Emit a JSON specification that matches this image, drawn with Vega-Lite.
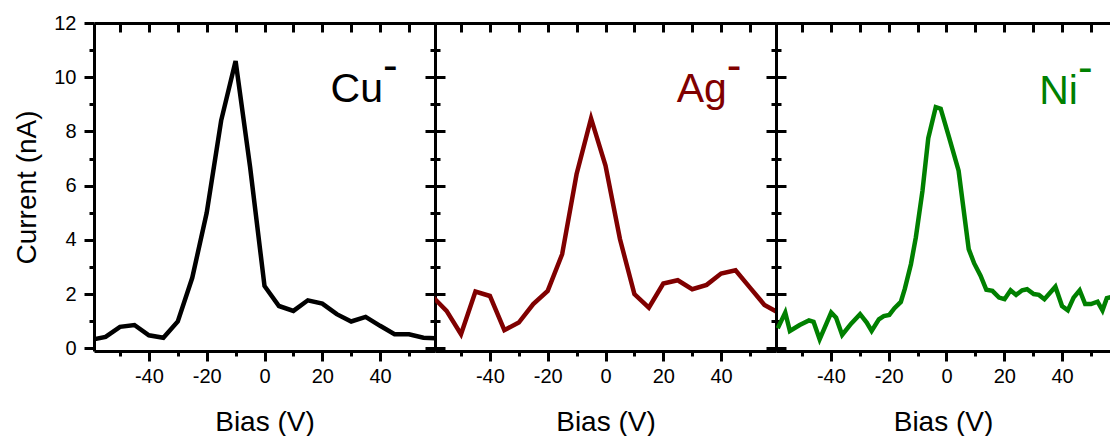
{
  "$schema": "https://vega.github.io/schema/vega-lite/v6.json",
  "background": "white",
  "padding": {"left": 13, "top": 13, "right": 0, "bottom": 0},
  "bounds": "flush",
  "spacing": 0,
  "config": {
    "view": {"stroke": null},
    "font": "Liberation Sans",
    "axis": {
      "domainColor": "black", "domainWidth": 3, "tickColor": "black", "tickWidth": 3,
      "labelColor": "black", "labelFontSize": 20, "labelFont": "Liberation Sans",
      "titleFont": "Liberation Sans", "titleFontSize": 28, "titleFontWeight": "normal", "titleColor": "black",
      "grid": false, "labelFlush": false, "labelOverlap": false
    }
  },
  "datasets": {
    "curves": [
      {"ion": "Cu", "bias": -60, "current": 0.31}, {"ion": "Cu", "bias": -55, "current": 0.42}, {"ion": "Cu", "bias": -50, "current": 0.79},
      {"ion": "Cu", "bias": -45, "current": 0.86}, {"ion": "Cu", "bias": -40, "current": 0.48}, {"ion": "Cu", "bias": -35, "current": 0.39},
      {"ion": "Cu", "bias": -30, "current": 0.99}, {"ion": "Cu", "bias": -25, "current": 2.6}, {"ion": "Cu", "bias": -20, "current": 5.0},
      {"ion": "Cu", "bias": -15, "current": 8.4}, {"ion": "Cu", "bias": -10, "current": 10.6}, {"ion": "Cu", "bias": -5, "current": 6.7},
      {"ion": "Cu", "bias": 0, "current": 2.3}, {"ion": "Cu", "bias": 5, "current": 1.56}, {"ion": "Cu", "bias": 10, "current": 1.38},
      {"ion": "Cu", "bias": 15, "current": 1.77}, {"ion": "Cu", "bias": 20, "current": 1.65}, {"ion": "Cu", "bias": 25, "current": 1.26},
      {"ion": "Cu", "bias": 30, "current": 0.99}, {"ion": "Cu", "bias": 35, "current": 1.16}, {"ion": "Cu", "bias": 40, "current": 0.83},
      {"ion": "Cu", "bias": 45, "current": 0.52}, {"ion": "Cu", "bias": 50, "current": 0.52}, {"ion": "Cu", "bias": 55, "current": 0.39},
      {"ion": "Cu", "bias": 60, "current": 0.36},
      {"ion": "Ag", "bias": -60, "current": 1.92}, {"ion": "Ag", "bias": -55, "current": 1.38}, {"ion": "Ag", "bias": -50, "current": 0.52},
      {"ion": "Ag", "bias": -45, "current": 2.09}, {"ion": "Ag", "bias": -40, "current": 1.93}, {"ion": "Ag", "bias": -35, "current": 0.67},
      {"ion": "Ag", "bias": -30, "current": 0.95}, {"ion": "Ag", "bias": -25, "current": 1.63}, {"ion": "Ag", "bias": -20, "current": 2.12},
      {"ion": "Ag", "bias": -15, "current": 3.47}, {"ion": "Ag", "bias": -10, "current": 6.43}, {"ion": "Ag", "bias": -5, "current": 8.48},
      {"ion": "Ag", "bias": 0, "current": 6.74}, {"ion": "Ag", "bias": 5, "current": 4.03}, {"ion": "Ag", "bias": 10, "current": 2.0},
      {"ion": "Ag", "bias": 15, "current": 1.5}, {"ion": "Ag", "bias": 20, "current": 2.39}, {"ion": "Ag", "bias": 25, "current": 2.51},
      {"ion": "Ag", "bias": 30, "current": 2.18}, {"ion": "Ag", "bias": 35, "current": 2.34}, {"ion": "Ag", "bias": 40, "current": 2.76},
      {"ion": "Ag", "bias": 45, "current": 2.88}, {"ion": "Ag", "bias": 50, "current": 2.24}, {"ion": "Ag", "bias": 55, "current": 1.6},
      {"ion": "Ag", "bias": 60, "current": 1.3},
      {"ion": "Ni", "bias": -58.4, "current": 0.74}, {"ion": "Ni", "bias": -55.8, "current": 1.32}, {"ion": "Ni", "bias": -54.2, "current": 0.64},
      {"ion": "Ni", "bias": -50.8, "current": 0.86}, {"ion": "Ni", "bias": -47.6, "current": 1.03}, {"ion": "Ni", "bias": -46, "current": 0.98},
      {"ion": "Ni", "bias": -43.9, "current": 0.33}, {"ion": "Ni", "bias": -39.9, "current": 1.32}, {"ion": "Ni", "bias": -38.2, "current": 1.13},
      {"ion": "Ni", "bias": -36.1, "current": 0.49}, {"ion": "Ni", "bias": -33, "current": 0.91}, {"ion": "Ni", "bias": -29.9, "current": 1.26},
      {"ion": "Ni", "bias": -27.6, "current": 0.95}, {"ion": "Ni", "bias": -25.9, "current": 0.64}, {"ion": "Ni", "bias": -23.4, "current": 1.07},
      {"ion": "Ni", "bias": -21.7, "current": 1.19}, {"ion": "Ni", "bias": -19.8, "current": 1.23}, {"ion": "Ni", "bias": -18, "current": 1.48},
      {"ion": "Ni", "bias": -15.8, "current": 1.71}, {"ion": "Ni", "bias": -14.4, "current": 2.2}, {"ion": "Ni", "bias": -12.3, "current": 3.1},
      {"ion": "Ni", "bias": -10.6, "current": 4.09}, {"ion": "Ni", "bias": -8.3, "current": 5.81}, {"ion": "Ni", "bias": -6.3, "current": 7.75},
      {"ion": "Ni", "bias": -3.7, "current": 8.9}, {"ion": "Ni", "bias": -2, "current": 8.84}, {"ion": "Ni", "bias": 0.9, "current": 7.78},
      {"ion": "Ni", "bias": 4.2, "current": 6.55}, {"ion": "Ni", "bias": 7.7, "current": 3.66}, {"ion": "Ni", "bias": 9.6, "current": 3.13},
      {"ion": "Ni", "bias": 11.8, "current": 2.68}, {"ion": "Ni", "bias": 13.8, "current": 2.16}, {"ion": "Ni", "bias": 15.9, "current": 2.12},
      {"ion": "Ni", "bias": 18.2, "current": 1.87}, {"ion": "Ni", "bias": 20.1, "current": 1.81}, {"ion": "Ni", "bias": 22.2, "current": 2.14},
      {"ion": "Ni", "bias": 24.1, "current": 1.97}, {"ion": "Ni", "bias": 26.2, "current": 2.14}, {"ion": "Ni", "bias": 27.9, "current": 2.18},
      {"ion": "Ni", "bias": 30.2, "current": 2.0}, {"ion": "Ni", "bias": 32, "current": 1.97}, {"ion": "Ni", "bias": 33.9, "current": 1.81},
      {"ion": "Ni", "bias": 37.7, "current": 2.27}, {"ion": "Ni", "bias": 40, "current": 1.56}, {"ion": "Ni", "bias": 42, "current": 1.4},
      {"ion": "Ni", "bias": 44, "current": 1.87}, {"ion": "Ni", "bias": 46.1, "current": 2.14}, {"ion": "Ni", "bias": 48, "current": 1.63},
      {"ion": "Ni", "bias": 50, "current": 1.63}, {"ion": "Ni", "bias": 52.3, "current": 1.72}, {"ion": "Ni", "bias": 54, "current": 1.4},
      {"ion": "Ni", "bias": 55.5, "current": 1.85}, {"ion": "Ni", "bias": 57.5, "current": 1.9}
    ],
    "labels": [
      {"ion": "Cu", "bias": 41, "current": 9.08, "label": "Cu"},
      {"ion": "Ag", "bias": 42, "current": 9.08, "label": "Ag"},
      {"ion": "Ni", "bias": 45.5, "current": 9.02, "label": "Ni"}
    ]
  },
  "hconcat": [
    {
      "width": 341, "height": 328,
      "resolve": {"axis": {"x": "independent", "y": "independent"}},
      "layer": [
        {
          "data": {"name": "curves"},
          "transform": [{"filter": "datum.ion === 'Cu'"}],
          "mark": {"type": "line", "color": "black", "strokeWidth": 4.5, "clip": true},
          "encoding": {
            "x": {"field": "bias", "type": "quantitative", "scale": {"domain": [-59, 59], "nice": false, "zero": false},
              "axis": {"orient": "bottom", "values": [-50, -40, -30, -20, -10, 0, 10, 20, 30, 40, 50],
                "labelExpr": "datum.value % 20 === 0 ? '' + datum.value : ''",
                "tickSize": {"condition": {"test": "datum.value % 20 === 0", "value": 10}, "value": 5},
                "labelPadding": 5, "title": "Bias (V)", "titlePadding": 22}},
            "y": {"field": "current", "type": "quantitative", "scale": {"domain": [-0.1, 12], "nice": false},
              "axis": {"orient": "left", "values": [0, 1, 2, 3, 4, 5, 6, 7, 8, 9, 10, 11, 12],
                "labelExpr": "datum.value % 2 === 0 ? '' + datum.value : ''",
                "tickSize": {"condition": {"test": "datum.value % 2 === 0", "value": 10}, "value": 5},
                "labelPadding": 8, "title": "Current (nA)", "titlePadding": 12}}
          }
        },
        {
          "data": {"name": "labels"},
          "transform": [{"filter": "datum.ion === 'Cu'"}],
          "mark": {"type": "text", "align": "right", "baseline": "alphabetic", "fontSize": 41, "color": "black"},
          "encoding": {
            "x": {"field": "bias", "type": "quantitative",
              "axis": {"orient": "top", "values": [-50, -40, -30, -20, -10, 0, 10, 20, 30, 40, 50], "labels": false, "tickSize": -9, "title": null}},
            "y": {"field": "current", "type": "quantitative",
              "axis": {"orient": "right", "values": [0, 1, 2, 3, 4, 5, 6, 7, 8, 9, 10, 11, 12], "labels": false,
                "tickSize": {"condition": {"test": "datum.value % 2 === 0", "value": 10}, "value": 5}, "title": null}},
            "text": {"field": "label"}
          }
        },
        {
          "data": {"name": "labels"},
          "transform": [{"filter": "datum.ion === 'Cu'"}],
          "mark": {"type": "text", "align": "left", "baseline": "alphabetic", "fontSize": 44, "dy": -22, "color": "black", "text": "-"},
          "encoding": {
            "x": {"field": "bias", "type": "quantitative", "axis": null},
            "y": {"field": "current", "type": "quantitative", "axis": null}
          }
        }
      ]
    },
    {
      "width": 341, "height": 328,
      "resolve": {"axis": {"x": "independent", "y": "independent"}},
      "layer": [
        {
          "data": {"name": "curves"},
          "transform": [{"filter": "datum.ion === 'Ag'"}],
          "mark": {"type": "line", "color": "#800000", "strokeWidth": 4.5, "clip": true},
          "encoding": {
            "x": {"field": "bias", "type": "quantitative", "scale": {"domain": [-59, 59], "nice": false, "zero": false},
              "axis": {"orient": "bottom", "values": [-50, -40, -30, -20, -10, 0, 10, 20, 30, 40, 50],
                "labelExpr": "datum.value % 20 === 0 ? '' + datum.value : ''",
                "tickSize": {"condition": {"test": "datum.value % 20 === 0", "value": 10}, "value": 5},
                "labelPadding": 5, "title": "Bias (V)", "titlePadding": 22}},
            "y": {"field": "current", "type": "quantitative", "scale": {"domain": [-0.1, 12], "nice": false},
              "axis": {"orient": "left", "values": [0, 1, 2, 3, 4, 5, 6, 7, 8, 9, 10, 11, 12], "labels": false,
                "tickSize": {"condition": {"test": "datum.value % 2 === 0", "value": 10}, "value": 5}, "title": null}}
          }
        },
        {
          "data": {"name": "labels"},
          "transform": [{"filter": "datum.ion === 'Ag'"}],
          "mark": {"type": "text", "align": "right", "baseline": "alphabetic", "fontSize": 41, "color": "#800000"},
          "encoding": {
            "x": {"field": "bias", "type": "quantitative",
              "axis": {"orient": "top", "values": [-50, -40, -30, -20, -10, 0, 10, 20, 30, 40, 50], "labels": false, "tickSize": -9, "title": null}},
            "y": {"field": "current", "type": "quantitative",
              "axis": {"orient": "right", "values": [0, 1, 2, 3, 4, 5, 6, 7, 8, 9, 10, 11, 12], "labels": false,
                "tickSize": {"condition": {"test": "datum.value % 2 === 0", "value": 10}, "value": 5}, "title": null}},
            "text": {"field": "label"}
          }
        },
        {
          "data": {"name": "labels"},
          "transform": [{"filter": "datum.ion === 'Ag'"}],
          "mark": {"type": "text", "align": "left", "baseline": "alphabetic", "fontSize": 44, "dy": -22, "color": "#800000", "text": "-"},
          "encoding": {
            "x": {"field": "bias", "type": "quantitative", "axis": null},
            "y": {"field": "current", "type": "quantitative", "axis": null}
          }
        }
      ]
    },
    {
      "width": 334, "height": 328,
      "resolve": {"axis": {"x": "independent", "y": "independent"}},
      "layer": [
        {
          "data": {"name": "curves"},
          "transform": [{"filter": "datum.ion === 'Ni'"}],
          "mark": {"type": "line", "color": "#008000", "strokeWidth": 4.5, "clip": true},
          "encoding": {
            "x": {"field": "bias", "type": "quantitative", "scale": {"domain": [-59, 56.6], "nice": false, "zero": false},
              "axis": {"orient": "bottom", "values": [-50, -40, -30, -20, -10, 0, 10, 20, 30, 40, 50],
                "labelExpr": "datum.value % 20 === 0 ? '' + datum.value : ''",
                "tickSize": {"condition": {"test": "datum.value % 20 === 0", "value": 10}, "value": 5},
                "labelPadding": 5, "title": "Bias (V)", "titlePadding": 22}},
            "y": {"field": "current", "type": "quantitative", "scale": {"domain": [-0.1, 12], "nice": false},
              "axis": {"orient": "left", "values": [0, 1, 2, 3, 4, 5, 6, 7, 8, 9, 10, 11, 12], "labels": false,
                "tickSize": {"condition": {"test": "datum.value % 2 === 0", "value": 10}, "value": 5}, "title": null}}
          }
        },
        {
          "data": {"name": "labels"},
          "transform": [{"filter": "datum.ion === 'Ni'"}],
          "mark": {"type": "text", "align": "right", "baseline": "alphabetic", "fontSize": 41, "color": "#008000"},
          "encoding": {
            "x": {"field": "bias", "type": "quantitative",
              "axis": {"orient": "top", "values": [-50, -40, -30, -20, -10, 0, 10, 20, 30, 40, 50], "labels": false, "tickSize": -9, "title": null}},
            "y": {"field": "current", "type": "quantitative", "axis": null},
            "text": {"field": "label"}
          }
        },
        {
          "data": {"name": "labels"},
          "transform": [{"filter": "datum.ion === 'Ni'"}],
          "mark": {"type": "text", "align": "left", "baseline": "alphabetic", "fontSize": 44, "dy": -22, "color": "#008000", "text": "-"},
          "encoding": {
            "x": {"field": "bias", "type": "quantitative", "axis": null},
            "y": {"field": "current", "type": "quantitative", "axis": null}
          }
        }
      ]
    }
  ]
}
